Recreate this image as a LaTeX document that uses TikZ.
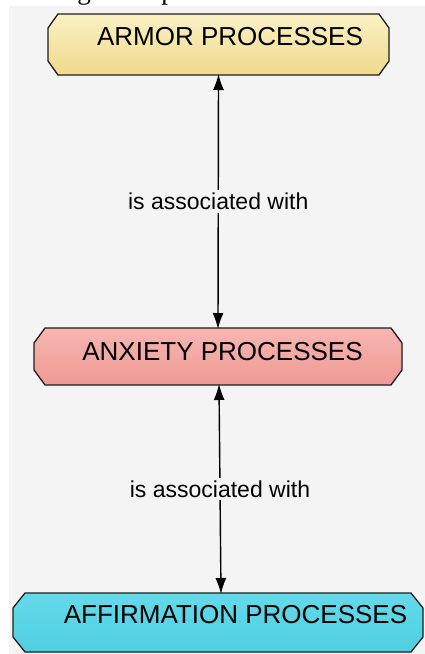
\documentclass[tikz,border=0pt]{standalone}
\usepackage{fontspec}
\setmainfont{Liberation Sans}
\newfontfamily\serifface{Liberation Serif}
\usetikzlibrary{arrows.meta,calc}

\definecolor{pagegray}{HTML}{F4F4F4}
\definecolor{edge}{HTML}{1E1E1E}
\definecolor{armortop}{HTML}{FAF1C4}
\definecolor{armorbot}{HTML}{EFD98C}
\definecolor{anxtop}{HTML}{F7B6B2}
\definecolor{anxbot}{HTML}{EF9A94}
\definecolor{afftop}{HTML}{63DAEA}
\definecolor{affbot}{HTML}{4FCFE1}

% octagonal box drawn around an anchor-holding node: name, chamfer x, chamfer y
\newcommand\octpath[3]{%
  ($(#1.north west)+(#2,0)$) -- ($(#1.north east)+(-#2,0)$) --
  ($(#1.north east)+(0,#3)$) -- ($(#1.south east)+(0,-#3)$) --
  ($(#1.south east)+(-#2,0)$) -- ($(#1.south west)+(#2,0)$) --
  ($(#1.south west)+(0,-#3)$) -- ($(#1.north west)+(0,#3)$) -- cycle}
% box with soft shadow: name, chamfer x, chamfer y, top colour, bottom colour
\newcommand\octbox[5]{%
  \fill[black,opacity=0.08,shift={(0,5)}] \octpath{#1}{#2}{#3};
  \fill[black,opacity=0.10,shift={(0,3)}] \octpath{#1}{#2}{#3};
  \draw[edge,line width=1.3pt,top color=#4,bottom color=#5] \octpath{#1}{#2}{#3};}

\begin{document}
\begin{tikzpicture}[x=1pt,y=-1pt,
  frame/.style={rectangle,inner sep=0pt,outer sep=0pt,draw=none},
  boxtext/.style={font=\fontsize{26}{30}\selectfont,text=black,inner sep=0pt,anchor=base},
  link/.style={line width=1.4pt,black,{Latex[length=16pt,width=11pt]}-{Latex[length=16pt,width=11pt]}},
  lbl/.style={font=\fontsize{23}{26}\selectfont,fill=pagegray,inner xsep=2pt,inner ysep=3pt,text=black}]
  \useasboundingbox (0,0) rectangle (425,654);
  \fill[white] (0,0) rectangle (425,654);
  \fill[pagegray] (9,6) rectangle (425,654);

  % descenders of the line of text above the panel
  \begin{scope}
    \clip (0,0) rectangle (425,6);
    \node[font=\serifface\fontsize{27}{30}\selectfont,anchor=base,inner sep=0pt] (gl) at (84,-0.5) {g};
    \node[font=\serifface\fontsize{27}{30}\selectfont,anchor=base,inner sep=0pt] (pl) at (168,-0.5) {p};
  \end{scope}

  % anchor frames of the three boxes
  \node[frame,minimum width=341pt,minimum height=61pt] (armor) at (218.5,44.5) {};
  \node[frame,minimum width=368pt,minimum height=57pt] (anxiety) at (218,356.5) {};
  \node[frame,minimum width=410pt,minimum height=59pt] (affirm) at (218,622.5) {};

  \octbox{armor}{10}{14}{armortop}{armorbot}
  \octbox{anxiety}{11}{15}{anxtop}{anxbot}
  \octbox{affirm}{12}{15}{afftop}{affbot}

  \node[boxtext] (armortxt) at (230,45) {ARMOR PROCESSES};
  \node[boxtext] (anxtxt) at (222.5,360) {ANXIETY PROCESSES};
  \node[boxtext] (afftxt) at (235.5,623) {AFFIRMATION PROCESSES};

  % connectors
  \draw[link] ([yshift=1pt]armor.south) -- node[lbl] (l1) {is associated with} ([yshift=-1pt]anxiety.north);
  \draw[link] ([xshift=1pt,yshift=1pt]anxiety.south) -- node[lbl] (l2) {is associated with} ([xshift=3pt,yshift=-1pt]affirm.north);
\end{tikzpicture}
\end{document}
